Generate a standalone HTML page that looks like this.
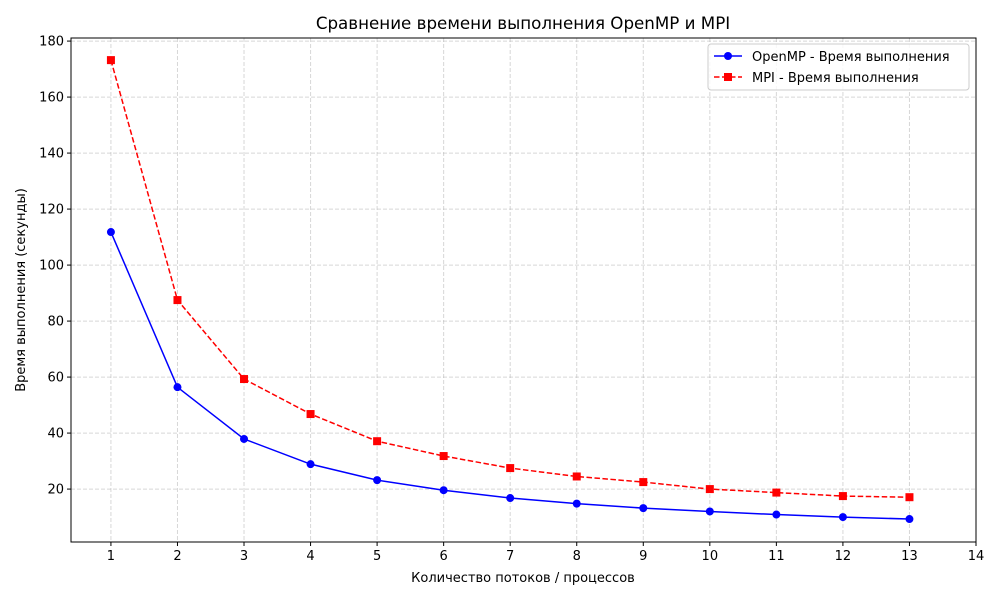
<!DOCTYPE html>
<html><head><meta charset="utf-8"><style>
body{margin:0;background:#fff;}
svg text{font-family:"DejaVu Sans","Liberation Sans",sans-serif;}
</style></head><body>
<svg id="chart" width="1000" height="600" xmlns="http://www.w3.org/2000/svg">
<rect width="1000" height="600" fill="#fff"/>
<g id="grid"></g>
<g id="axes"></g>
<g id="series"></g>
<rect x="71" y="38" width="905" height="504" fill="none" stroke="#000" stroke-width="1"/>
<text x="523" y="29" text-anchor="middle" font-size="16.7">Сравнение времени выполнения OpenMP и MPI</text>
<text x="523" y="582" text-anchor="middle" font-size="13">Количество потоков / процессов</text>
<text transform="translate(25,290) rotate(-90)" text-anchor="middle" font-size="13">Время выполнения (секунды)</text>
<g>
<rect x="708" y="44" width="261" height="46" rx="3" fill="#fff" fill-opacity="0.8" stroke="#ccc"/>
<line x1="714" y1="56" x2="742" y2="56" stroke="#0000ff" stroke-width="1.5"/>
<circle cx="728" cy="56" r="4" fill="#0000ff"/>
<text x="752" y="61" font-size="13">OpenMP - Время выполнения</text>
<line x1="714" y1="77" x2="742" y2="77" stroke="#ff0000" stroke-width="1.5" stroke-dasharray="5.5,2.5"/>
<rect x="724" y="73" width="8" height="8" fill="#ff0000"/>
<text x="752" y="82" font-size="13">MPI - Время выполнения</text>
</g>
</svg>
<script>
const threads=[1,2,3,4,5,6,7,8,9,10,11,12,13];
const openmpTimes=[111.8,56.4,37.9,28.9,23.2,19.6,16.8,14.8,13.2,12.0,10.9,10.0,9.3];
const mpiTimes=[173.2,87.5,59.3,46.8,37.1,31.8,27.5,24.5,22.5,20.0,18.75,17.5,17.1];
const xTicks=[1,2,3,4,5,6,7,8,9,10,11,12,13,14];
const yTicks=[20,40,60,80,100,120,140,160,180];
const NS="http://www.w3.org/2000/svg";
const L=71,R=976,T=38,B=542,xmin=0.4,xmax=14,ymin=1.1,ymax=181.1;
const sx=v=>L+(v-xmin)/(xmax-xmin)*(R-L);
const sy=v=>B-(v-ymin)/(ymax-ymin)*(B-T);
function mk(tag,attrs,parent){const e=document.createElementNS(NS,tag);for(const k in attrs)e.setAttribute(k,attrs[k]);parent.appendChild(e);return e;}
const grid=document.getElementById('grid'),axes=document.getElementById('axes'),series=document.getElementById('series');
xTicks.forEach(t=>{const x=sx(t);
mk('line',{x1:x,x2:x,y1:T,y2:B,stroke:'#b0b0b0','stroke-opacity':0.5,'stroke-dasharray':'4,2'},grid);
mk('line',{x1:x,x2:x,y1:B,y2:B+4,stroke:'#000'},axes);
const tx=mk('text',{x:x,y:B+18,'text-anchor':'middle','font-size':13},axes);tx.textContent=t;

});
yTicks.forEach(t=>{const y=sy(t);
mk('line',{x1:L,x2:R,y1:y,y2:y,stroke:'#b0b0b0','stroke-opacity':0.5,'stroke-dasharray':'4,2'},grid);
mk('line',{x1:L-4,x2:L,y1:y,y2:y,stroke:'#000'},axes);
const tx=mk('text',{x:L-7,y:y+4.5,'text-anchor':'end','font-size':13},axes);tx.textContent=t;

});
function draw(vals,color,dash,marker,name){
const pts=threads.map((t,i)=>sx(t)+','+sy(vals[i])).join(' ');
const pl=mk('polyline',{points:pts,fill:'none',stroke:color,'stroke-width':1.5},series);
if(dash)pl.setAttribute('stroke-dasharray',dash);


threads.forEach((t,i)=>{let m;
if(marker==='circle')m=mk('circle',{cx:sx(t),cy:sy(vals[i]),r:4,fill:color},series);
else m=mk('rect',{x:sx(t)-4,y:sy(vals[i])-4,width:8,height:8,fill:color},series);

});}
draw(openmpTimes,'#0000ff',null,'circle','openmp');
draw(mpiTimes,'#ff0000','5.5,2.5','square','mpi');
</script>
</body></html>
